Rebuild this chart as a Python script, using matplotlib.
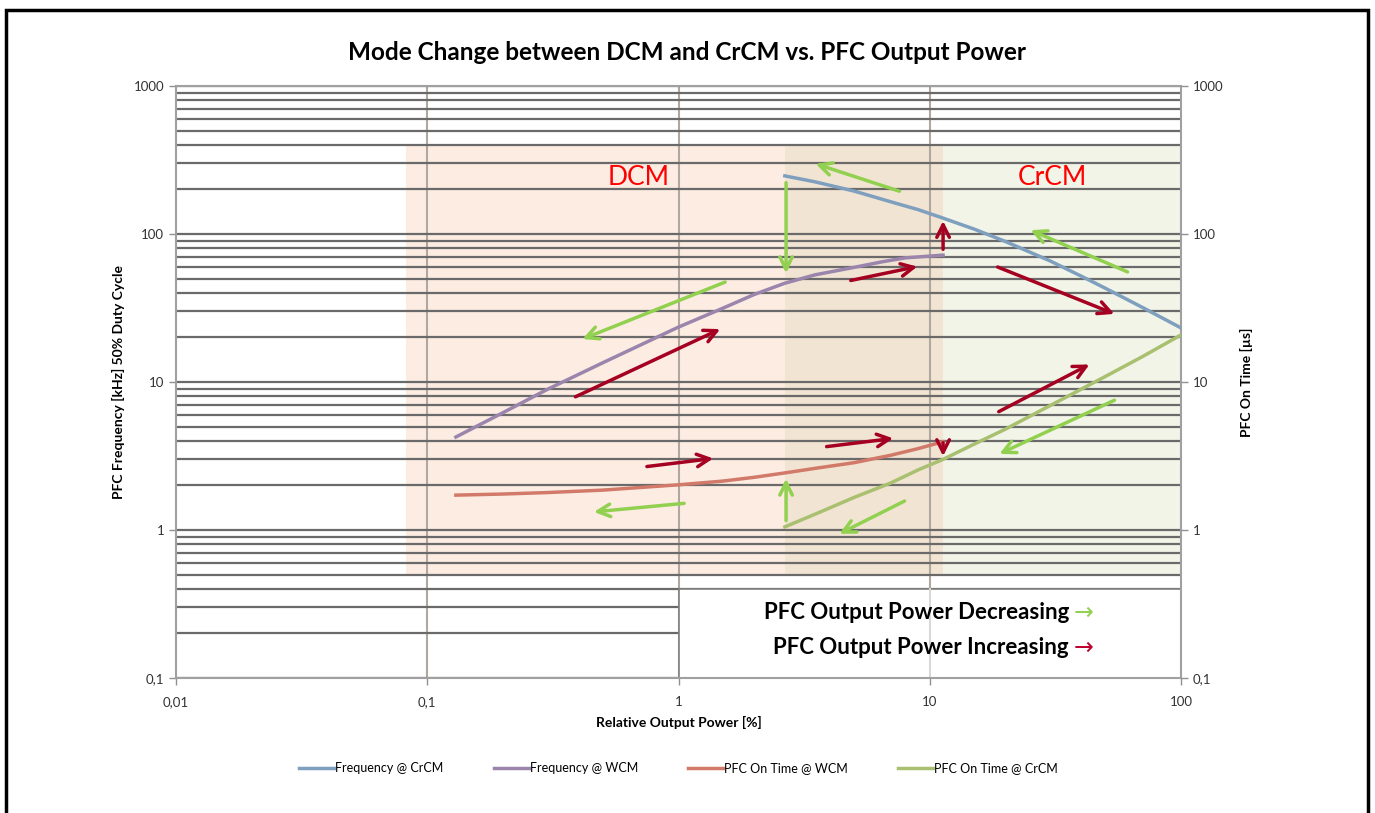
import numpy as np
import matplotlib.pyplot as plt
from matplotlib.patches import Rectangle

plt.rcParams['font.family'] = ['Lato', 'DejaVu Sans']

# curve data (relative output power [%] -> value)
x_freq_crcm = [2.65, 3.5, 5, 7, 9, 11.3, 15, 20, 30, 40, 50, 70, 100]
y_freq_crcm = [247, 225, 195, 165, 146, 128, 108, 89, 66, 52, 43, 32, 23.2]

x_freq_wcm = [0.13, 0.2, 0.3, 0.5, 1, 1.5, 2, 2.65, 3.5, 5, 6.5, 8, 11.3]
y_freq_wcm = [4.25, 6.2, 8.9, 13.5, 23.5, 31.5, 39, 46.5, 53, 59.5, 65, 69, 72]

x_ton_wcm = [0.13, 0.2, 0.3, 0.5, 1, 1.5, 2, 2.65, 3.5, 5, 7, 9, 11.3]
y_ton_wcm = [1.72, 1.75, 1.79, 1.86, 2.02, 2.14, 2.27, 2.43, 2.61, 2.85, 3.2, 3.55, 3.95]

x_ton_crcm = [2.65, 3.5, 5, 7, 9, 11.3, 15, 20, 30, 50, 70, 100]
y_ton_crcm = [1.05, 1.28, 1.66, 2.08, 2.55, 3.0, 3.8, 4.8, 6.9, 10.9, 14.8, 20.8]

# direction arrows: (x_tail, y_tail, x_head, y_head)
arrows_decreasing = [
    (7.76, 192, 3.43, 302),
    (2.68, 232, 2.68, 52),
    (62.7, 54.5, 24.6, 108),
    (1.57, 48.1, 0.405, 19.2),
    (1.08, 1.52, 0.449, 1.32),
    (2.68, 1.11, 2.68, 2.32),
    (8.12, 1.60, 4.27, 0.925),
    (55.6, 7.67, 18.5, 3.21),
]
arrows_increasing = [
    (4.73, 48.1, 9.15, 60.8),
    (11.3, 75.5, 11.3, 128),
    (18.2, 60.8, 55.6, 28.4),
    (0.38, 7.8, 1.50, 23.2),
    (0.73, 2.67, 1.41, 3.06),
    (3.79, 3.64, 7.34, 4.18),
    (11.3, 4.06, 11.3, 3.02),
    (18.4, 6.18, 44.2, 13.4),
]

fig = plt.figure(figsize=(13.75, 8.13), dpi=100)
ax = fig.add_axes([176 / 1375, 1 - 678 / 813, 1005 / 1375, 592 / 813])
ax.set_xscale('log')
ax.set_yscale('log')
ax.set_xlim(0.01, 100)
ax.set_ylim(0.1, 1000)

# mode regions
ax.add_patch(Rectangle((0.082, 0.5), 11.3 - 0.082, 400 - 0.5, facecolor='#fdece2', edgecolor='none', zorder=0))
ax.add_patch(Rectangle((11.3, 0.5), 100 - 11.3, 400 - 0.5, facecolor='#f2f4e8', edgecolor='none', zorder=0))
ax.add_patch(Rectangle((2.65, 0.5), 11.3 - 2.65, 400 - 0.5, facecolor='#f2e4d3', edgecolor='none', zorder=0))

# grid
for v in [0.1, 1, 10]:
    ax.axvline(v, color='#b0a8a0', lw=1.5, zorder=1)
ymaj = [0.1, 1, 10, 100, 1000]
ymin = [m * d for d in [0.1, 1, 10, 100] for m in range(2, 10)]
for v in ymaj + ymin:
    ax.axhline(v, color='#6a6a6a', lw=1.6, zorder=1)

# white text box in lower right
ax.add_patch(Rectangle((1, 0.1), 99, 0.4 - 0.1, facecolor='white', edgecolor='#808080', lw=1.2, zorder=2))
ax.plot([10, 10], [0.1, 0.4], color='#d8d8d8', lw=1.5, zorder=2)

# curves
ax.plot(x_freq_crcm, y_freq_crcm, color='#7f9fbf', lw=2.5, zorder=4, label='Frequency @ CrCM')
ax.plot(x_freq_wcm, y_freq_wcm, color='#9b85ad', lw=2.5, zorder=4, label='Frequency @ WCM')
ax.plot(x_ton_wcm, y_ton_wcm, color='#d27a6a', lw=2.5, zorder=4, label='PFC On Time @ WCM')
ax.plot(x_ton_crcm, y_ton_crcm, color='#a8c070', lw=2.5, zorder=4, label='PFC On Time @ CrCM')

for xt, yt, xh, yh in arrows_decreasing:
    ax.annotate('', xy=(xh, yh), xytext=(xt, yt),
                arrowprops=dict(arrowstyle='->,head_length=0.9,head_width=0.45', color='#92d050', lw=2.5),
                zorder=5)
for xt, yt, xh, yh in arrows_increasing:
    ax.annotate('', xy=(xh, yh), xytext=(xt, yt),
                arrowprops=dict(arrowstyle='->,head_length=0.9,head_width=0.45', color='#a50021', lw=2.5),
                zorder=5)

ax.text(0.460, 0.846, 'DCM', transform=ax.transAxes, color='red', fontsize=19, ha='center', va='center', zorder=6)
ax.text(0.872, 0.846, 'CrCM', transform=ax.transAxes, color='red', fontsize=19, ha='center', va='center', zorder=6)

ax.text(0.8886, 0.1098, 'PFC Output Power Decreasing', transform=ax.transAxes, fontsize=16,
        fontweight='bold', ha='right', va='center', zorder=6)
ax.text(0.8935, 0.1098, '\u2192', transform=ax.transAxes, fontsize=17, color='#92d050',
        ha='left', va='center', family='DejaVu Sans', zorder=6)
ax.text(0.8886, 0.0507, 'PFC Output Power Increasing', transform=ax.transAxes, fontsize=16,
        fontweight='bold', ha='right', va='center', zorder=6)
ax.text(0.8935, 0.0507, '\u2192', transform=ax.transAxes, fontsize=17, color='#c00030',
        ha='left', va='center', family='DejaVu Sans', zorder=6)

# ticks
xticks = [0.01, 0.1, 1, 10, 100]
xtick_labels = ['0,01', '0,1', '1', '10', '100']
ytick_labels = ['0,1', '1', '10', '100', '1000']
ax.set_xticks(xticks, xtick_labels)
ax.set_yticks(ymaj, ytick_labels)
ax.minorticks_off()
ax.tick_params(axis='both', labelsize=9.5, length=5, width=1, direction='out')
ax.tick_params(axis='x', colors='#909090', labelcolor='#333333', pad=8)
ax.tick_params(axis='y', colors='#909090', labelcolor='#333333')
for s in ax.spines.values():
    s.set_color('#a0a0a0')
    s.set_linewidth(1.5)
    s.set_zorder(3)

ax2 = ax.twinx()
ax2.set_yscale('log')
ax2.set_ylim(0.1, 1000)
ax2.set_yticks(ymaj, ytick_labels)
ax2.minorticks_off()
ax2.tick_params(axis='y', labelsize=9.5, colors='#909090', labelcolor='#333333', length=5, width=1)
for s in ax2.spines.values():
    s.set_visible(False)

ax.set_xlabel('Relative Output Power [%]', fontsize=10, fontweight='bold', labelpad=6)
ax.set_ylabel('PFC Frequency [kHz] 50% Duty Cycle', fontsize=10, fontweight='bold', labelpad=6)
ax2.set_ylabel('PFC On Time [\u00b5s]', fontsize=10, fontweight='bold', labelpad=12)

fig.suptitle('Mode Change between DCM and CrCM vs. PFC Output Power', fontsize=17.5,
             fontweight='bold', y=1 - 52 / 813, va='center')

ax.legend(loc='center', bbox_to_anchor=(0.5, (678 - 768) / 592), ncol=4, frameon=False,
          fontsize=9, handlelength=2.8, handletextpad=0.1, columnspacing=4.0)

# outer border
fig.add_artist(Rectangle((6 / 1375, -0.05), 1362 / 1375, 1.05 - 10 / 813, transform=fig.transFigure,
                         fill=False, edgecolor='black', lw=2.5))

fig.savefig('out.png', dpi=100)
